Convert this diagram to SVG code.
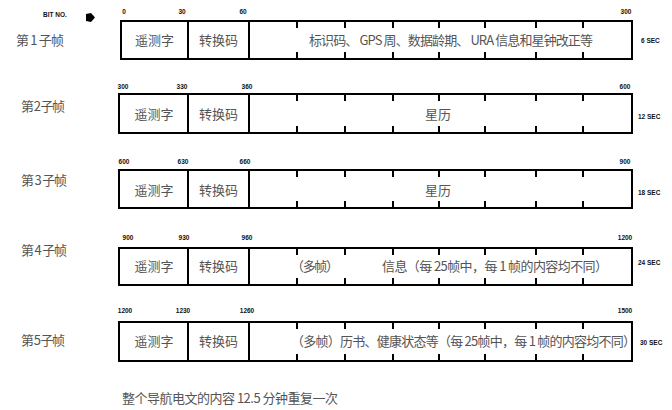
<svg xmlns="http://www.w3.org/2000/svg" width="672" height="410" viewBox="0 0 672 410">
<style>
.box{fill:#fff;stroke:#000;stroke-width:2}
.ln{stroke:#000;stroke-width:2;fill:none}
.cn{font-family:"Noto Sans CJK SC","Noto Sans",sans-serif;font-size:13px;fill:#555}
.mid{text-anchor:middle}
.sm{font-family:"Liberation Sans",Arial,sans-serif;font-size:6.5px;font-weight:bold;fill:#111}
</style>
<defs>
<clipPath id="clip5"><rect x="120" y="323" width="511" height="37"/></clipPath>
</defs>
<rect width="672" height="410" fill="#fff"/>

<g id="header">
<text class="sm" x="43" y="17">BIT NO.</text>
<polygon points="86,14 91,13 95,17.5 91,22 86,21" fill="#000"/>
</g>

<g id="frame1">
<text class="cn" x="16" y="45" textLength="48">第 1 子帧</text>
<text class="sm mid" x="124" y="14">0</text>
<text class="sm mid" x="182" y="14">30</text>
<text class="sm mid" x="243" y="14">60</text>
<text class="sm mid" x="626" y="14">300</text>
<rect class="box" x="121" y="21" width="511" height="38"/>
<path class="ln" d="M188,21V59M249,21V59M297,21v7M345,21v7M393,21v7M439,21v7M485,21v7M536,21v7M583,21v7M297,59v-7M345,59v-7M393,59v-7M439,59v-7M485,59v-7M536,59v-7M583,59v-7"/>
<text class="cn mid" x="154.5" y="45">遥测字</text>
<text class="cn mid" x="218.5" y="45">转换码</text>
<text class="cn" x="309" y="45" textLength="284">标识码、 GPS 周、数据龄期、 URA 信息和星钟改正等</text>
<text class="sm" x="641" y="42.5">6 SEC</text>
</g>

<g id="frame2">
<text class="cn" x="21" y="111" textLength="44">第 2 子帧</text>
<text class="sm mid" x="123" y="89">300</text>
<text class="sm mid" x="182" y="89">330</text>
<text class="sm mid" x="247" y="89">360</text>
<text class="sm mid" x="625" y="89">600</text>
<rect class="box" x="119" y="94" width="513" height="39"/>
<path class="ln" d="M188,94V133M249,94V133M297,94v7M345,94v7M393,94v7M439,94v7M485,94v7M536,94v7M583,94v7M297,133v-7M345,133v-7M393,133v-7M439,133v-7M485,133v-7M536,133v-7M583,133v-7"/>
<text class="cn mid" x="154" y="119">遥测字</text>
<text class="cn mid" x="218.5" y="119">转换码</text>
<text class="cn mid" x="438" y="119">星历</text>
<text class="sm" x="638" y="119">12 SEC</text>
</g>

<g id="frame3">
<text class="cn" x="21" y="184.5" textLength="46">第 3 子帧</text>
<text class="sm mid" x="124" y="164">600</text>
<text class="sm mid" x="183" y="164">630</text>
<text class="sm mid" x="245" y="164">660</text>
<text class="sm mid" x="625" y="164">900</text>
<rect class="box" x="119" y="170" width="513" height="38"/>
<path class="ln" d="M188,170V208M249,170V208M297,170v7M345,170v7M393,170v7M439,170v7M485,170v7M536,170v7M583,170v7M297,208v-7M345,208v-7M393,208v-7M439,208v-7M485,208v-7M536,208v-7M583,208v-7"/>
<text class="cn mid" x="154" y="195">遥测字</text>
<text class="cn mid" x="218.5" y="195">转换码</text>
<text class="cn mid" x="438" y="195">星历</text>
<text class="sm" x="638" y="195">18 SEC</text>
</g>

<g id="frame4">
<text class="cn" x="21" y="254.5" textLength="46">第 4 子帧</text>
<text class="sm mid" x="128" y="240">900</text>
<text class="sm mid" x="184" y="240">930</text>
<text class="sm mid" x="247" y="240">960</text>
<text class="sm mid" x="625" y="240">1200</text>
<rect class="box" x="119" y="248" width="513" height="37"/>
<path class="ln" d="M188,248V285M249,248V285M297,248v7M345,248v7M393,248v7M439,248v7M485,248v7M536,248v7M583,248v7M297,285v-7M345,285v-7M393,285v-7M439,285v-7M485,285v-7M536,285v-7M583,285v-7"/>
<text class="cn mid" x="154" y="271">遥测字</text>
<text class="cn mid" x="218.5" y="271">转换码</text>
<text class="cn" x="291" y="271" textLength="48">（多帧）</text>
<text class="cn" x="382" y="271" textLength="226">信息（每 25帧中，每 1 帧的内容均不同）</text>
<text class="sm" x="638" y="265">24 SEC</text>
</g>

<g id="frame5">
<text class="cn" x="21" y="344.5" textLength="44">第 5 子帧</text>
<text class="sm mid" x="125" y="313">1200</text>
<text class="sm mid" x="183" y="313">1230</text>
<text class="sm mid" x="247" y="313">1260</text>
<text class="sm mid" x="625" y="313">1500</text>
<rect class="box" x="119" y="322" width="513" height="39"/>
<text class="cn" x="291" y="346" textLength="345" clip-path="url(#clip5)">（多帧）历书、健康状态等（每 25帧中，每 1 帧的内容均不同）</text>
<path class="ln" d="M632,322V361M188,322V361M249,322V361M297,322v7M345,322v7M393,322v7M439,322v7M485,322v7M536,322v7M583,322v7M297,361v-7M345,361v-7M393,361v-7M439,361v-7M485,361v-7M536,361v-7M583,361v-7"/>
<text class="cn mid" x="154" y="346">遥测字</text>
<text class="cn mid" x="218.5" y="346">转换码</text>
<text class="sm" x="640" y="345">30 SEC</text>
</g>

<g id="footer">
<text class="cn" x="122" y="403" textLength="216">整个导航电文的内容 12.5 分钟重复一次</text>
</g>
<g id="connectors"></g>
</svg>
